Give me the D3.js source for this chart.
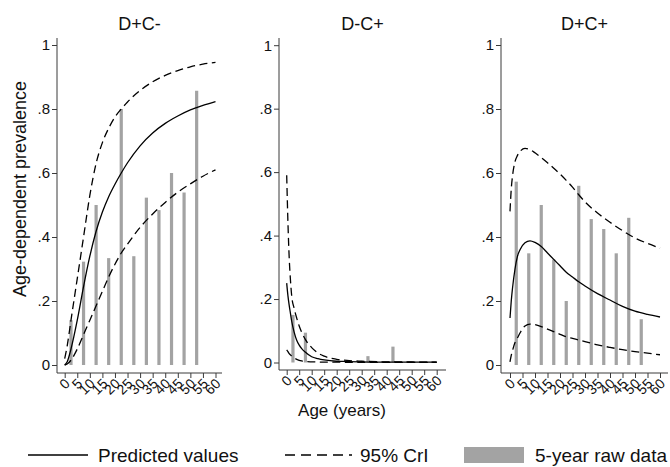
<!DOCTYPE html>
<html>
<head>
<meta charset="utf-8">
<script src="https://cdn.jsdelivr.net/npm/d3@7/dist/d3.min.js"></script>
<style>
  html, body { margin: 0; padding: 0; background: #fff; }
  svg { display: block; font-family: "Liberation Sans", Arial, sans-serif; }
</style>
</head>
<body>
<svg id="chart" width="670" height="467"></svg>
<script>
// ---------------- DATA ----------------
const panelTitles = ["D+C-", "D-C+", "D+C+"];
const xTickValues = [0, 5, 10, 15, 20, 25, 30, 35, 40, 45, 50, 55, 60];
const yTickValues = [0, 0.2, 0.4, 0.6, 0.8, 1];
const yTickLabels = ["0", ".2", ".4", ".6", ".8", "1"];

// 5-year raw data (bar midpoints)
const barAges = [2.5, 7.5, 12.5, 17.5, 22.5, 27.5, 32.5, 37.5, 42.5, 47.5, 52.5];
const barsDpCm = [0.14, 0.323, 0.5, 0.334, 0.8, 0.34, 0.523, 0.484, 0.6, 0.539, 0.857];
const barsDmCp = [0.15, 0.094, 0, 0, 0, 0, 0.02, 0, 0.05, 0, 0];
const barsDpCp = [0.573, 0.349, 0.5, 0.33, 0.2, 0.56, 0.456, 0.425, 0.349, 0.46, 0.143];

// Panel 1: D+C-
const ages1 = [0, 1, 2.5, 5, 7.5, 10, 12.5, 15, 17.5, 20, 22.5, 25, 30, 35, 40, 45, 50, 55, 60];
const predDpCm = [0.0, 0.01, 0.05, 0.14, 0.245, 0.34, 0.418, 0.478, 0.526, 0.565, 0.6, 0.632, 0.685, 0.725, 0.755, 0.778, 0.797, 0.811, 0.823];
const upperDpCm = [0.02, 0.06, 0.14, 0.27, 0.40, 0.53, 0.63, 0.695, 0.74, 0.775, 0.80, 0.822, 0.858, 0.885, 0.905, 0.92, 0.932, 0.94, 0.946];
const lowerDpCm = [0.0, 0.003, 0.015, 0.05, 0.095, 0.14, 0.185, 0.23, 0.275, 0.315, 0.35, 0.378, 0.43, 0.472, 0.508, 0.54, 0.566, 0.59, 0.61];

// Panel 2: D-C+
const ages2 = [0, 0.5, 1, 1.5, 2, 3, 4, 5, 6, 7.5, 10, 12.5, 15, 20, 25, 30, 40, 50, 60];
const predDmCp = [0.25, 0.21, 0.18, 0.155, 0.13, 0.095, 0.07, 0.055, 0.044, 0.032, 0.018, 0.012, 0.008, 0.004, 0.003, 0.002, 0.001, 0.001, 0.001];
const upperDmCp = [0.59, 0.44, 0.33, 0.26, 0.21, 0.17, 0.14, 0.115, 0.095, 0.072, 0.047, 0.03, 0.02, 0.01, 0.006, 0.004, 0.002, 0.0015, 0.001];
const lowerDmCp = [0.04, 0.034, 0.028, 0.024, 0.02, 0.014, 0.01, 0.007, 0.005, 0.003, 0.002, 0.0015, 0.001, 0.001, 0.0005, 0.0005, 0.0005, 0.0005, 0.0005];

// Panel 3: D+C+
const ages3 = [0, 0.5, 1, 2, 3, 4, 6, 8, 10, 12.5, 15, 17.5, 20, 22.5, 25, 27.5, 30, 35, 40, 45, 50, 55, 60];
const predDpCp = [0.147, 0.2, 0.24, 0.3, 0.34, 0.36, 0.382, 0.388, 0.383, 0.37, 0.35, 0.33, 0.31, 0.29, 0.275, 0.26, 0.247, 0.223, 0.203, 0.183, 0.168, 0.158, 0.15];
const upperDpCp = [0.48, 0.55, 0.59, 0.635, 0.655, 0.667, 0.677, 0.673, 0.663, 0.648, 0.632, 0.615, 0.597, 0.577, 0.556, 0.532, 0.51, 0.475, 0.446, 0.42, 0.397, 0.38, 0.365];
const lowerDpCp = [0.01, 0.03, 0.045, 0.07, 0.085, 0.1, 0.122, 0.128, 0.126, 0.12, 0.112, 0.104, 0.096, 0.088, 0.083, 0.078, 0.073, 0.063, 0.055, 0.048, 0.042, 0.037, 0.032];

const legendLabels = ["Predicted values", "95% CrI", "5-year raw data"];
const xTitle = "Age (years)";
const yTitle = "Age-dependent prevalence";

// ---------------- LAYOUT ----------------
const layouts = [
  { yAxisX: 57,  xAxisY: 373, top: 38, y0: 365,   y1: 45,   x0: 64.7,  x60: 215.5, xEnd: 222 },
  { yAxisX: 279, xAxisY: 370, top: 38, y0: 362.5, y1: 45.2, x0: 286.7, x60: 436.7, xEnd: 446 },
  { yAxisX: 501, xAxisY: 373, top: 38, y0: 365,   y1: 45,   x0: 510,   x60: 660,   xEnd: 668 }
];
const panels = [
  { title: panelTitles[0], bars: barsDpCm, ages: ages1, pred: predDpCm, upper: upperDpCm, lower: lowerDpCm },
  { title: panelTitles[1], bars: barsDmCp, ages: ages2, pred: predDmCp, upper: upperDmCp, lower: lowerDmCp },
  { title: panelTitles[2], bars: barsDpCp, ages: ages3, pred: predDpCp, upper: upperDpCp, lower: lowerDpCp }
];

const axisColor = "#3a3a3a";
const barColor = "#a3a3a3";
const dash = "8,4.5";
const FONT = "Liberation Sans, Arial, sans-serif";

const svg = d3.select("#chart");

panels.forEach((p, i) => {
  const L = layouts[i];
  const x = d3.scaleLinear().domain([0, 60]).range([L.x0, L.x60]);
  const y = d3.scaleLinear().domain([0, 1]).range([L.y0, L.y1]);
  const g = svg.append("g");

  // title
  g.append("text")
    .attr("x", (L.yAxisX + L.xEnd) / 2).attr("y", 29.5)
    .attr("text-anchor", "middle").attr("font-size", 18).attr("fill", "#111")
    .text(p.title);

  // bars
  g.selectAll("rect.bar").data(barAges.map((a, k) => ({ a, v: p.bars[k] })).filter(d => d.v > 0))
    .enter().append("rect")
    .attr("x", d => x(d.a) - 1.6).attr("width", 3.2)
    .attr("y", d => y(d.v)).attr("height", d => y(0) - y(d.v))
    .attr("fill", barColor);

  // curves
  const line = d3.line().x(d => x(d[0])).y(d => y(d[1])).curve(d3.curveMonotoneX);
  const mk = arr => p.ages.map((a, k) => [a, arr[k]]);
  g.append("path").attr("d", line(mk(p.upper))).attr("fill", "none")
    .attr("stroke", "#000").attr("stroke-width", 1.3).attr("stroke-dasharray", dash);
  g.append("path").attr("d", line(mk(p.lower))).attr("fill", "none")
    .attr("stroke", "#000").attr("stroke-width", 1.3).attr("stroke-dasharray", dash);
  g.append("path").attr("d", line(mk(p.pred))).attr("fill", "none")
    .attr("stroke", "#000").attr("stroke-width", 1.3);

  // y axis
  const yAx = g.append("g").attr("transform", `translate(${L.yAxisX},0)`)
    .call(d3.axisLeft(y).tickValues(yTickValues).tickFormat((d, k) => yTickLabels[k]).tickSize(5).tickPadding(2).tickSizeOuter(0));
  yAx.select(".domain").remove();
  yAx.selectAll("line").attr("stroke", axisColor);
  yAx.selectAll("text").attr("font-size", 15).attr("fill", "#111").attr("font-family", FONT);
  g.append("line").attr("x1", L.yAxisX).attr("x2", L.yAxisX).attr("y1", L.top).attr("y2", L.xAxisY)
    .attr("stroke", axisColor).attr("stroke-width", 1);

  // x axis
  const xAx = g.append("g").attr("transform", `translate(0,${L.xAxisY})`)
    .call(d3.axisBottom(x).tickValues(xTickValues).tickFormat(d3.format("d")).tickSize(5).tickSizeOuter(0));
  xAx.select(".domain").remove();
  xAx.selectAll("line").attr("stroke", axisColor);
  xAx.selectAll("text")
    .attr("font-size", 14).attr("fill", "#111").attr("font-family", FONT)
    .attr("text-anchor", "end").attr("dy", null).attr("y", 0)
    .attr("transform", "translate(2,8) rotate(-45)")
    .attr("dominant-baseline", "central");
  g.append("line").attr("x1", L.yAxisX).attr("x2", L.xEnd).attr("y1", L.xAxisY).attr("y2", L.xAxisY)
    .attr("stroke", axisColor).attr("stroke-width", 1);
});

// y title
svg.append("text")
  .attr("transform", "translate(26,189) rotate(-90)")
  .attr("text-anchor", "middle").attr("font-size", 18).attr("fill", "#111")
  .text(yTitle);

// x title
svg.append("text")
  .attr("x", 342).attr("y", 416)
  .attr("text-anchor", "middle").attr("font-size", 17).attr("fill", "#111")
  .text(xTitle);

// legend
const lg = svg.append("g").attr("font-size", 19).attr("fill", "#111");
lg.append("line").attr("x1", 28).attr("x2", 88).attr("y1", 455).attr("y2", 455).attr("stroke", "#000").attr("stroke-width", 1.3);
lg.append("text").attr("x", 98).attr("y", 462).text(legendLabels[0]);
lg.append("line").attr("x1", 285).attr("x2", 352).attr("y1", 455).attr("y2", 455).attr("stroke", "#000").attr("stroke-width", 1.3).attr("stroke-dasharray", "10,6");
lg.append("text").attr("x", 360).attr("y", 462).text(legendLabels[1]);
lg.append("rect").attr("x", 464).attr("y", 447).attr("width", 60).attr("height", 16).attr("fill", barColor);
lg.append("text").attr("x", 535).attr("y", 462).text(legendLabels[2]);
</script>
</body>
</html>
